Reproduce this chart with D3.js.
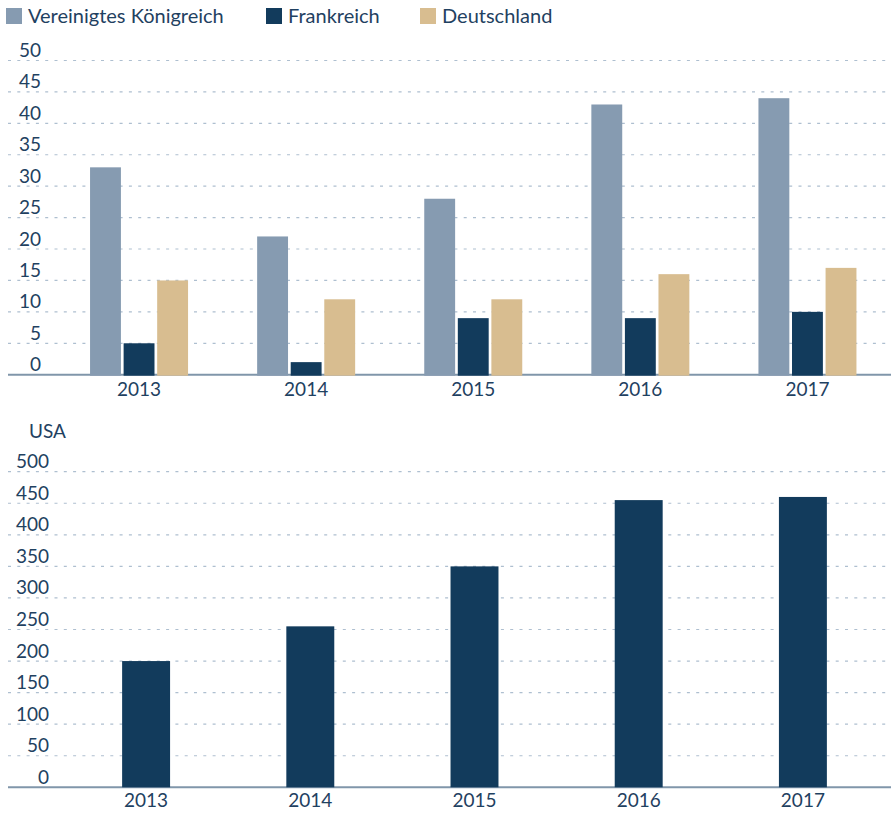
<!DOCTYPE html>
<html>
<head>
<meta charset="utf-8">
<script src="https://cdn.jsdelivr.net/npm/d3@7"></script>
<style>
  body { margin: 0; background: #fff; }
  text { font-family: Lato, "Open Sans", sans-serif; fill: #1f4161; }
</style>
</head>
<body>
<div id="chart"></div>
<script>
// Data
const years = ["2013", "2014", "2015", "2016", "2017"];
const series = ["Vereinigtes Königreich", "Frankreich", "Deutschland"];
const ukValues = [33, 22, 28, 43, 44];
const frValues = [5, 2, 9, 9, 10];
const deValues = [15, 12, 12, 16, 17];
const usaValues = [200, 255, 350, 455, 460];
const topTicks = [0, 5, 10, 15, 20, 25, 30, 35, 40, 45, 50];
const bottomTicks = [0, 50, 100, 150, 200, 250, 300, 350, 400, 450, 500];

const colors = { "Vereinigtes Königreich": "#869bb1", "Frankreich": "#123b5c", "Deutschland": "#d8bd90" };
const width = 891, height = 813;
const gridColor = "#aebfd0", axisColor = "#8096aa";

const svg = d3.select("#chart")
    .append("svg")
    .attr("width", width)
    .attr("height", height);

const groupData = years.map((yr, i) => ({
    year: yr,
    values: [
        { key: series[0], value: ukValues[i] },
        { key: series[1], value: frValues[i] },
        { key: series[2], value: deValues[i] }
    ]
}));

// Legend
const legendX = [6, 266, 420];
const legend = svg.append("g");
series.forEach((s, i) => {
    legend.append("rect")
        .attr("x", legendX[i])
        .attr("y", 8)
        .attr("width", 16)
        .attr("height", 16)
        .attr("fill", colors[s]);
    legend.append("text")
        .attr("x", legendX[i] + 22)
        .attr("y", 23)
        .style("font-size", "20px")
        .text(s);
});

// Shared helpers
function drawGrid(y, ticks, labelX) {
    const g = svg.append("g");
    g.selectAll("line.grid")
        .data(ticks.filter(t => t > 0))
        .join("line")
        .attr("class", "grid")
        .attr("x1", 8)
        .attr("x2", width)
        .attr("y1", d => y(d))
        .attr("y2", d => y(d))
        .attr("stroke", gridColor)
        .attr("stroke-width", 1.2)
        .attr("stroke-dasharray", "3,6.3");

    const ax = svg.append("g")
        .attr("transform", `translate(${labelX},0)`)
        .call(d3.axisLeft(y).tickValues(ticks).tickSize(0).tickPadding(0));
    ax.select(".domain").remove();
    ax.selectAll("text")
        .attr("dy", "-4px")
        .style("font-size", "19px")
        .style("font-family", "Lato, 'Open Sans', sans-serif")
        .attr("fill", "#1f4161");

    svg.append("line")
        .attr("x1", 8)
        .attr("x2", width)
        .attr("y1", y(0))
        .attr("y2", y(0))
        .attr("stroke", axisColor)
        .attr("stroke-width", 2);
}

function drawYears(x, y0, baseline) {
    const ax = svg.append("g")
        .attr("transform", `translate(0,${y0})`)
        .call(d3.axisBottom(x).tickSize(0).tickPadding(baseline - y0 - 14));
    ax.select(".domain").remove();
    ax.selectAll("text")
        .style("font-size", "19px")
        .style("font-family", "Lato, 'Open Sans', sans-serif")
        .attr("fill", "#1f4161");
}

// Top chart: grouped bars
const yTop = d3.scaleLinear().domain([0, 50]).range([374.7, 60.5]);
const x0 = d3.scaleBand().domain(years).range([55.5, 891]).padding(0);
const x1 = d3.scaleBand().domain(series).range([-49, 49]).paddingInner(0.08);

drawGrid(yTop, topTicks, 41);

svg.append("g").selectAll("g")
    .data(groupData)
    .join("g")
    .attr("transform", d => `translate(${x0(d.year) + x0.bandwidth() / 2},0)`)
    .selectAll("rect")
    .data(d => d.values)
    .join("rect")
    .attr("x", d => x1(d.key))
    .attr("width", x1.bandwidth())
    .attr("y", d => yTop(d.value))
    .attr("height", d => yTop(0) - yTop(d.value) + 1)
    .attr("fill", d => colors[d.key]);

drawYears(x0, yTop(0), 397);

// Bottom chart: USA
svg.append("text")
    .attr("x", 29)
    .attr("y", 438)
    .style("font-size", "19px")
    .text("USA");

const yBot = d3.scaleLinear().domain([0, 500]).range([787.3, 471.7]);
const xB = d3.scaleBand().domain(years).range([64, 885]).paddingInner(0.708).paddingOuter(0.354);

drawGrid(yBot, bottomTicks, 49);

svg.append("g").selectAll("rect")
    .data(years.map((yr, i) => ({ year: yr, value: usaValues[i] })))
    .join("rect")
    .attr("x", d => xB(d.year))
    .attr("width", xB.bandwidth())
    .attr("y", d => yBot(d.value))
    .attr("height", d => yBot(0) - yBot(d.value))
    .attr("fill", "#123b5c");

drawYears(xB, yBot(0), 808);
</script>
</body>
</html>
